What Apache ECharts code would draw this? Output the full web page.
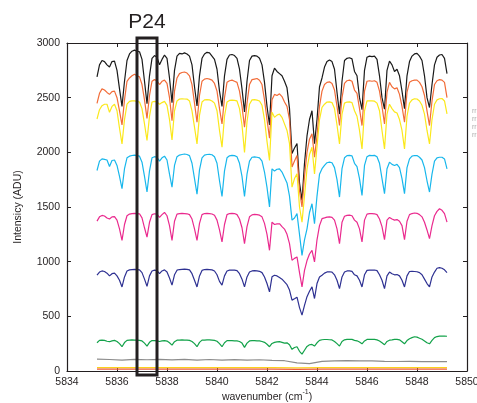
<!DOCTYPE html>
<html>
<head>
<meta charset="utf-8">
<script src="https://cdn.jsdelivr.net/npm/echarts@6/dist/echarts.min.js"></script>
<style>html,body{margin:0;padding:0;background:#fff}#chart{width:477px;height:403px}</style>
</head>
<body>
<div id="chart"></div>
<script>
// x grids (cm^-1)
const fineGrid = Array.from({ length: 141 }, (_, i) => +(5835.2 + i * 0.1).toFixed(1))
const coarseGrid = Array.from({ length: 29 }, (_, i) => +(5835.2 + i * 0.5).toFixed(1))
const floorGrid = Array.from({ length: 15 }, (_, i) => +(5835.2 + i * 1.0).toFixed(1))

// spectra (ADU)
const black = [
  2690, 2800, 2840, 2830, 2800, 2780, 2830, 2835, 2750, 2580,
  2420, 2650, 2840, 2900, 2925, 2935, 2925, 2920, 2850, 2650,
  2445, 2700, 2860, 2885, 2870, 2800, 2850, 2890, 2860, 2680,
  2455, 2750, 2880, 2905, 2900, 2910, 2900, 2880, 2800, 2600,
  2425, 2700, 2860, 2900, 2915, 2910, 2880, 2850, 2760, 2560,
  2420, 2700, 2850, 2890, 2895, 2885, 2860, 2760, 2580, 2370,
  2650, 2840, 2880, 2885, 2880, 2860, 2800, 2640, 2420, 2250,
  2700, 2770, 2740, 2720, 2700, 2650, 2590, 2400, 1990, 2040,
  2080, 1720, 1560, 1900, 2150, 2300, 2380, 2080, 2300, 2600,
  2680, 2780, 2830, 2845, 2830, 2760, 2550, 2350, 2650, 2840,
  2860, 2865, 2855, 2740, 2700, 2500, 2390, 2750, 2870, 2880,
  2875, 2880, 2850, 2700, 2500, 2395, 2750, 2835, 2800, 2740,
  2760, 2700, 2560, 2400, 2700, 2830, 2880, 2900, 2905, 2880,
  2840, 2700, 2500, 2410, 2620, 2800, 2870, 2890, 2895, 2860,
  2720
]
const orange = [
  2448, 2540, 2580, 2570, 2548, 2530, 2555, 2560, 2500, 2380,
  2250, 2480, 2650, 2680, 2700, 2715, 2700, 2690, 2620, 2480,
  2310, 2520, 2650, 2665, 2655, 2620, 2650, 2660, 2630, 2500,
  2290, 2560, 2680, 2720, 2730, 2735, 2725, 2700, 2620, 2450,
  2275, 2520, 2650, 2670, 2675, 2670, 2660, 2630, 2560, 2400,
  2260, 2500, 2640, 2655, 2660, 2650, 2640, 2560, 2420, 2230,
  2450, 2620, 2665, 2670, 2675, 2660, 2620, 2480, 2300, 2130,
  2480, 2530, 2520, 2535, 2510, 2460, 2420, 2300, 1865, 1920,
  1970, 1650, 1500, 1780, 2000, 2120, 2170, 1955, 2150, 2420,
  2560, 2620, 2640, 2645, 2630, 2570, 2420, 2245, 2500, 2630,
  2655, 2660, 2650, 2570, 2540, 2400, 2245, 2560, 2650, 2655,
  2650, 2655, 2640, 2560, 2420, 2260, 2550, 2640, 2600, 2580,
  2590, 2530, 2420, 2275, 2550, 2640, 2655, 2660, 2660, 2640,
  2600, 2520, 2380, 2245, 2470, 2620, 2655, 2665, 2660, 2640,
  2500
]
const yellow = [
  2305, 2390, 2427, 2440, 2440, 2366, 2420, 2440, 2380, 2220,
  2077, 2300, 2440, 2466, 2470, 2470, 2466, 2460, 2400, 2260,
  2108, 2330, 2460, 2466, 2460, 2440, 2455, 2466, 2430, 2300,
  2114, 2380, 2470, 2487, 2490, 2488, 2487, 2470, 2380, 2230,
  2077, 2340, 2460, 2480, 2482, 2480, 2470, 2450, 2380, 2200,
  2047, 2330, 2460, 2475, 2478, 2475, 2470, 2400, 2250, 2000,
  2280, 2440, 2480, 2482, 2478, 2470, 2430, 2300, 2100, 1925,
  2366, 2320, 2340, 2350, 2320, 2260, 2200, 2080, 1682, 1760,
  1803, 1500, 1362, 1600, 1850, 1980, 2047, 1803, 2050, 2300,
  2411, 2440, 2460, 2462, 2455, 2400, 2250, 2077, 2350, 2450,
  2460, 2462, 2455, 2380, 2330, 2200, 2031, 2380, 2470, 2472,
  2470, 2468, 2450, 2380, 2200, 2031, 2350, 2440, 2400, 2370,
  2360, 2300, 2200, 2031, 2330, 2450, 2480, 2490, 2488, 2470,
  2430, 2350, 2200, 2077, 2300, 2440, 2480, 2490, 2492, 2470,
  2351
]
const cyan = [
  1834, 1920, 1940, 1935, 1930, 1870, 1925, 1930, 1880, 1780,
  1667, 1850, 1950, 1965, 1971, 1975, 1970, 1965, 1910, 1780,
  1637, 1830, 1950, 1960, 1955, 1920, 1950, 1965, 1930, 1800,
  1682, 1880, 1960, 1975, 1980, 1985, 1980, 1970, 1900, 1760,
  1618, 1840, 1950, 1975, 1980, 1982, 1978, 1960, 1900, 1740,
  1596, 1830, 1950, 1968, 1972, 1970, 1960, 1900, 1780, 1596,
  1800, 1920, 1955, 1958, 1955, 1950, 1920, 1820, 1680, 1500,
  1849, 1830, 1845, 1849, 1820, 1770, 1720, 1600, 1380, 1400,
  1440, 1250, 1058, 1200, 1300, 1450, 1530, 1347, 1600, 1800,
  1850, 1880, 1905, 1910, 1905, 1860, 1750, 1591, 1850, 1950,
  1970, 1972, 1968, 1900, 1870, 1760, 1606, 1880, 1960, 1972,
  1970, 1972, 1960, 1900, 1760, 1622, 1850, 1910, 1890, 1880,
  1890, 1860, 1760, 1622, 1860, 1940, 1965, 1971, 1970, 1955,
  1930, 1860, 1740, 1637, 1800, 1920, 1950, 1955, 1955, 1940,
  1849
]
const magenta = [
  1371, 1410, 1423, 1418, 1400, 1390, 1410, 1412, 1380, 1300,
  1195, 1340, 1420, 1435, 1440, 1442, 1440, 1438, 1400, 1310,
  1225, 1360, 1430, 1438, 1435, 1405, 1430, 1450, 1420, 1330,
  1195, 1370, 1435, 1440, 1442, 1440, 1438, 1430, 1390, 1300,
  1195, 1350, 1430, 1440, 1442, 1440, 1436, 1425, 1380, 1290,
  1180, 1340, 1430, 1440, 1442, 1440, 1430, 1390, 1310, 1165,
  1320, 1410, 1428, 1432, 1430, 1425, 1410, 1350, 1250, 1104,
  1362, 1340, 1345, 1347, 1320, 1298, 1250, 1165, 1013, 1030,
  1043, 900, 769, 920, 1010, 1070, 1104, 998, 1200, 1330,
  1393, 1400, 1408, 1410, 1405, 1380, 1300, 1165, 1360, 1415,
  1423, 1425, 1420, 1380, 1360, 1300, 1180, 1380, 1435, 1439,
  1440, 1438, 1430, 1390, 1320, 1201, 1380, 1405, 1390, 1380,
  1385, 1370, 1330, 1201, 1370, 1430, 1440, 1445, 1442, 1430,
  1410, 1360, 1290, 1210, 1330, 1420, 1460, 1484, 1470, 1440,
  1362
]
const navy = [
  876, 905, 915, 910, 895, 870, 890, 895, 870, 830,
  769, 860, 915, 925, 928, 930, 928, 925, 900, 840,
  775, 870, 915, 922, 918, 890, 915, 925, 905, 850,
  785, 880, 922, 928, 930, 932, 930, 925, 890, 830,
  769, 870, 920, 928, 930, 928, 925, 915, 880, 820,
  785, 870, 915, 922, 924, 922, 918, 890, 840, 769,
  860, 905, 915, 918, 915, 912, 900, 860, 800, 724,
  861, 876, 870, 855, 840, 815, 790, 740, 648, 660,
  675, 580, 511, 600, 680, 730, 769, 663, 800, 860,
  876, 895, 906, 908, 905, 880, 830, 754, 860, 905,
  915, 916, 912, 880, 870, 830, 769, 880, 920, 922,
  922, 924, 918, 880, 830, 754, 870, 905, 890, 880,
  882, 870, 830, 769, 870, 910, 912, 910, 908, 900,
  880, 840, 800, 769, 860, 905, 940, 946, 940, 925,
  900
]
const green = [
  258, 280, 283, 280, 272, 268, 276, 280, 270, 250,
  222, 260, 280, 283, 284, 283, 282, 280, 275, 255,
  228, 262, 278, 277, 276, 270, 276, 278, 274, 258,
  237, 268, 282, 283, 284, 283, 282, 280, 270, 250,
  222, 262, 282, 283, 285, 284, 283, 280, 272, 250,
  222, 258, 278, 277, 278, 276, 275, 270, 255, 216,
  255, 275, 277, 278, 276, 275, 270, 262, 245, 222,
  252, 262, 266, 268, 262, 255, 258, 240, 198, 215,
  222, 180, 155, 190, 225, 240, 243, 228, 258, 280,
  286, 288, 288, 286, 284, 270, 250, 228, 270, 285,
  289, 290, 289, 280, 276, 265, 249, 275, 289, 290,
  290, 289, 285, 275, 258, 240, 270, 282, 285, 290,
  289, 285, 268, 249, 278, 295, 305, 313, 310, 300,
  290, 275, 258, 249, 280, 305, 315, 319, 320, 319,
  318
]
const gray = [
  108, 105, 100, 106, 103, 107, 102, 106, 100, 105,
  100, 104, 100, 103, 97, 94, 75, 68, 88, 92,
  95, 93, 92, 88, 87, 88, 86, 85, 86
]
const floorYellow = [31, 30, 31, 30, 31, 30, 31, 30, 28, 30, 31, 30, 31, 30, 31]
const floorRed = [18, 17, 18, 17, 18, 17, 18, 17, 15, 17, 18, 17, 18, 17, 18]

// highlighted line P24
const boxLabel = 'P24'
const boxRange = [5836.8, 5837.6, -37, 3046]

const xTicks = { min: 5834, max: 5850, interval: 2 }
const yTicks = { min: 0, max: 3000, interval: 500 }

const pairs = (xs, ys) => xs.map((x, i) => [x, ys[i]])

const el = document.getElementById('chart')
const chart = echarts.init(el, null, { renderer: 'canvas', width: 477, height: 403 })

const font = 'Liberation Sans'
const ink = '#231f20'

function line (name, xs, ys, color) {
  return {
    name, type: 'line', data: pairs(xs, ys), showSymbol: false, symbol: 'none',
    lineStyle: { color, width: 1.2 }, itemStyle: { color }, silent: true
  }
}

const axisCommon = {
  type: 'value',
  axisLine: { show: true, onZero: false, lineStyle: { color: ink, width: 1.2 } },
  axisTick: { show: true, inside: true, length: 4, lineStyle: { color: ink } },
  splitLine: { show: false }
}

const plain = v => String(v)

const option = {
  animation: false,
  grid: { left: 67, right: 10, top: 43, bottom: 32, outerBoundsMode: 'none', containLabel: false },
  // clipped legend text peeking in at the right edge
  graphic: [{
    type: 'text', left: 472, top: 107,
    style: { text: 'rr\nrr\nrr\nrr', fill: '#b0b0b0', font: '7px "Liberation Sans"', lineHeight: 8 }
  }],
  xAxis: [
    Object.assign({}, axisCommon, xTicks, {
      position: 'bottom',
      axisLabel: { color: ink, fontFamily: font, fontSize: 10.5, margin: 6, formatter: plain },
      name: '{a|wavenumber (cm}{s|-1}{a|)}',
      nameLocation: 'middle',
      nameGap: 18,
      nameMoveOverlap: false,
      nameTextStyle: {
        rich: {
          a: { fontFamily: font, fontSize: 10.5, color: ink, lineHeight: 14, verticalAlign: 'bottom' },
          s: { fontFamily: font, fontSize: 7, color: ink, lineHeight: 8, verticalAlign: 'top' }
        }
      }
    }),
    Object.assign({}, axisCommon, xTicks, { position: 'top', axisLabel: { show: false } })
  ],
  yAxis: [
    Object.assign({}, axisCommon, yTicks, {
      position: 'left',
      axisLabel: { color: ink, fontFamily: font, fontSize: 10.5, margin: 7, formatter: plain },
      name: 'Intensicy (ADU)',
      nameLocation: 'middle',
      nameGap: 43,
      nameMoveOverlap: false,
      nameTextStyle: { color: ink, fontFamily: font, fontSize: 10.5 }
    }),
    Object.assign({}, axisCommon, yTicks, { position: 'right', axisLabel: { show: false } })
  ],
  series: [
    line('black', fineGrid, black, '#1a1a1a'),
    line('orange', fineGrid, orange, '#f26c38'),
    line('yellow', fineGrid, yellow, '#fbe81c'),
    line('cyan', fineGrid, cyan, '#18b7ec'),
    line('magenta', fineGrid, magenta, '#ea2a8e'),
    line('navy', fineGrid, navy, '#2e3192'),
    line('green', fineGrid, green, '#13a24a'),
    line('gray', coarseGrid, gray, '#8c8c8c'),
    line('floorYellow', floorGrid, floorYellow, '#fbd21c'),
    line('floorRed', floorGrid, floorRed, '#ec5a3c'),
    {
      type: 'custom',
      name: boxLabel,
      clip: false,
      silent: true,
      z: 10,
      data: [boxRange],
      encode: { x: [0, 1], y: [2, 3] },
      renderItem: function (params, api) {
        const p0 = api.coord([api.value(0), api.value(3)])
        const p1 = api.coord([api.value(1), api.value(2)])
        return {
          type: 'group',
          children: [
            {
              type: 'rect',
              shape: { x: p0[0], y: p0[1], width: p1[0] - p0[0], height: p1[1] - p0[1] },
              style: { fill: 'none', stroke: ink, lineWidth: 3 }
            },
            {
              type: 'text',
              style: {
                x: (p0[0] + p1[0]) / 2, y: p0[1] - 5,
                text: boxLabel, fill: ink, font: '21px "Liberation Sans"',
                align: 'center', verticalAlign: 'bottom'
              }
            }
          ]
        }
      }
    }
  ]
}

chart.setOption(option)
</script>
</body>
</html>
